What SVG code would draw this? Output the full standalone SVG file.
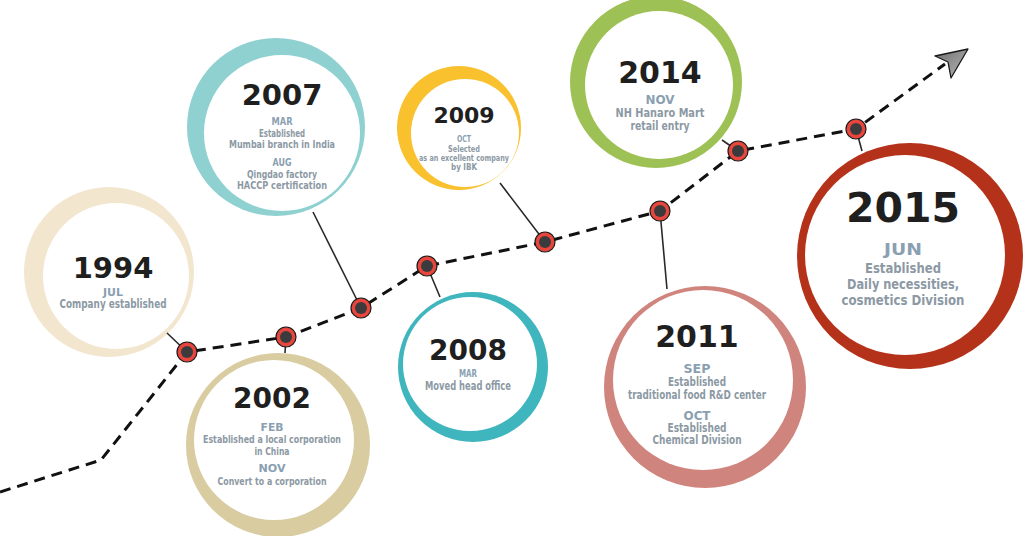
<svg xmlns="http://www.w3.org/2000/svg" width="1024" height="536" viewBox="0 0 1024 536">
<style>
.yr{font-family:"DejaVu Sans",sans-serif;font-weight:bold;fill:#1f1f1f;text-anchor:middle}
.mo{font-family:"DejaVu Sans",sans-serif;font-weight:bold;fill:#8aa0b1;text-anchor:middle}
.tx{font-family:"DejaVu Sans Condensed","DejaVu Sans",sans-serif;font-weight:bold;fill:#8c99a4;text-anchor:middle}
.in{fill:#ffffff}
.lead{stroke:#2a2a2a;stroke-width:1.6;fill:none}
.dot{fill:#e8453c;stroke:#1a1a1a;stroke-width:1.2}
.dc{fill:#3b3b3d}
</style>
<defs>
<linearGradient id="ag" x1="0" y1="0" x2="1" y2="1">
<stop offset="0" stop-color="#6e6e6e"/>
<stop offset="1" stop-color="#b8b8b8"/>
</linearGradient>
</defs>

<g id="n1994">
<circle cx="109" cy="272" r="85" fill="#f3e6cf"/>
<circle class="in" cx="116" cy="276" r="73"/>
<text class="yr" x="113" y="278" font-size="29">1994</text>
<text class="mo" x="113" y="296" font-size="11" textLength="20" lengthAdjust="spacingAndGlyphs">JUL</text>
<text class="tx" x="113" y="308" font-size="12" textLength="107" lengthAdjust="spacingAndGlyphs">Company established</text>
</g>

<g id="n2007">
<circle cx="276" cy="127" r="89" fill="#8fd0d1"/>
<circle class="in" cx="282" cy="133" r="78"/>
<text class="yr" x="282" y="105" font-size="29">2007</text>
<text class="mo" x="282" y="125" font-size="11" textLength="21" lengthAdjust="spacingAndGlyphs">MAR</text>
<text class="tx" x="282" y="137" font-size="11" textLength="46" lengthAdjust="spacingAndGlyphs">Established</text>
<text class="tx" x="282" y="148" font-size="11" textLength="106" lengthAdjust="spacingAndGlyphs">Mumbai branch in India</text>
<text class="mo" x="282" y="166" font-size="11" textLength="19" lengthAdjust="spacingAndGlyphs">AUG</text>
<text class="tx" x="282" y="178" font-size="11" textLength="70" lengthAdjust="spacingAndGlyphs">Qingdao factory</text>
<text class="tx" x="282" y="189" font-size="11" textLength="90" lengthAdjust="spacingAndGlyphs">HACCP certification</text>
</g>

<g id="n2002">
<circle cx="278" cy="445" r="92" fill="#d8cca0"/>
<circle class="in" cx="274" cy="440" r="80"/>
<text class="yr" x="272" y="408" font-size="28">2002</text>
<text class="mo" x="272" y="431" font-size="11" textLength="23" lengthAdjust="spacingAndGlyphs">FEB</text>
<text class="tx" x="272" y="443" font-size="10.5" textLength="138" lengthAdjust="spacingAndGlyphs">Established a local corporation</text>
<text class="tx" x="272" y="455" font-size="10.5" textLength="35" lengthAdjust="spacingAndGlyphs">in China</text>
<text class="mo" x="272" y="472" font-size="11" textLength="27" lengthAdjust="spacingAndGlyphs">NOV</text>
<text class="tx" x="272" y="485" font-size="11" textLength="109" lengthAdjust="spacingAndGlyphs">Convert to a corporation</text>
</g>

<g id="n2009">
<circle cx="459" cy="128" r="62" fill="#f9c12e"/>
<circle class="in" cx="465" cy="133" r="54"/>
<text class="yr" x="464" y="123" font-size="22">2009</text>
<text class="mo" x="464" y="142" font-size="9" textLength="14" lengthAdjust="spacingAndGlyphs">OCT</text>
<text class="tx" x="464" y="152" font-size="9.5" textLength="32" lengthAdjust="spacingAndGlyphs">Selected</text>
<text class="tx" x="464" y="161" font-size="9.5" textLength="90" lengthAdjust="spacingAndGlyphs">as an excellent company</text>
<text class="tx" x="464" y="170" font-size="9.5" textLength="26" lengthAdjust="spacingAndGlyphs">by IBK</text>
</g>

<g id="n2008">
<circle cx="473" cy="367" r="75" fill="#3fb5bd"/>
<circle class="in" cx="470" cy="364" r="67"/>
<text class="yr" x="468" y="360" font-size="28">2008</text>
<text class="mo" x="468" y="377" font-size="11" textLength="18" lengthAdjust="spacingAndGlyphs">MAR</text>
<text class="tx" x="468" y="390" font-size="12" textLength="86" lengthAdjust="spacingAndGlyphs">Moved head office</text>
</g>

<g id="n2014">
<circle cx="656" cy="82" r="86" fill="#9dc155"/>
<circle class="in" cx="659" cy="85" r="74"/>
<text class="yr" x="660" y="83" font-size="30">2014</text>
<text class="mo" x="660" y="104" font-size="12" textLength="29" lengthAdjust="spacingAndGlyphs">NOV</text>
<text class="tx" x="660" y="117" font-size="12.5" textLength="89" lengthAdjust="spacingAndGlyphs">NH Hanaro Mart</text>
<text class="tx" x="660" y="130" font-size="12.5" textLength="59" lengthAdjust="spacingAndGlyphs">retail entry</text>
</g>

<g id="n2011">
<circle cx="705" cy="387" r="101" fill="#d0847e"/>
<circle class="in" cx="703" cy="380" r="90"/>
<text class="yr" x="697" y="347" font-size="30">2011</text>
<text class="mo" x="697" y="373" font-size="12" textLength="27" lengthAdjust="spacingAndGlyphs">SEP</text>
<text class="tx" x="697" y="386" font-size="12" textLength="58" lengthAdjust="spacingAndGlyphs">Established</text>
<text class="tx" x="697" y="399" font-size="12" textLength="138" lengthAdjust="spacingAndGlyphs">traditional food R&amp;D center</text>
<text class="mo" x="697" y="420" font-size="12" textLength="27" lengthAdjust="spacingAndGlyphs">OCT</text>
<text class="tx" x="697" y="432" font-size="12" textLength="59" lengthAdjust="spacingAndGlyphs">Established</text>
<text class="tx" x="697" y="444" font-size="12" textLength="89" lengthAdjust="spacingAndGlyphs">Chemical Division</text>
</g>

<g id="n2015">
<circle cx="910" cy="256" r="113" fill="#b5321a"/>
<circle class="in" cx="905" cy="255" r="100"/>
<text class="yr" x="903" y="222" font-size="41">2015</text>
<text class="mo" x="903" y="255" font-size="15" textLength="38" lengthAdjust="spacingAndGlyphs">JUN</text>
<text class="tx" x="903" y="273" font-size="14.5" textLength="76" lengthAdjust="spacingAndGlyphs">Established</text>
<text class="tx" x="903" y="289" font-size="14.5" textLength="112" lengthAdjust="spacingAndGlyphs">Daily necessities,</text>
<text class="tx" x="903" y="305" font-size="14.5" textLength="123" lengthAdjust="spacingAndGlyphs">cosmetics Division</text>
</g>

<g id="connectors">
<path class="lead" d="M187 352 L167 333 M286 337 L285 353 M361 308 L313 212 M427 266 L440 297 M545 242 L500 183 M660 211 L667 289 M738 151 L722 140 M856 129 L862 151"/>
<path d="M0 492 L101 460 L187 352 L286 337 L361 308 L427 266 L545 242 L660 211 L738 151 L856 129 L945 64" fill="none" stroke="#111" stroke-width="3" stroke-dasharray="11 7"/>
<path d="M968 49 L935 56 L948 62 L951 78 Z" fill="url(#ag)" stroke="#1a1a1a" stroke-width="1.3" stroke-linejoin="round"/>
<g>
<circle class="dot" cx="187" cy="352" r="10"/><circle class="dc" cx="187" cy="352" r="6"/>
<circle class="dot" cx="286" cy="337" r="10"/><circle class="dc" cx="286" cy="337" r="6"/>
<circle class="dot" cx="361" cy="308" r="10"/><circle class="dc" cx="361" cy="308" r="6"/>
<circle class="dot" cx="427" cy="266" r="10"/><circle class="dc" cx="427" cy="266" r="6"/>
<circle class="dot" cx="545" cy="242" r="10"/><circle class="dc" cx="545" cy="242" r="6"/>
<circle class="dot" cx="660" cy="211" r="10"/><circle class="dc" cx="660" cy="211" r="6"/>
<circle class="dot" cx="738" cy="151" r="10"/><circle class="dc" cx="738" cy="151" r="6"/>
<circle class="dot" cx="856" cy="129" r="10"/><circle class="dc" cx="856" cy="129" r="6"/>
</g>
</g>
</svg>
